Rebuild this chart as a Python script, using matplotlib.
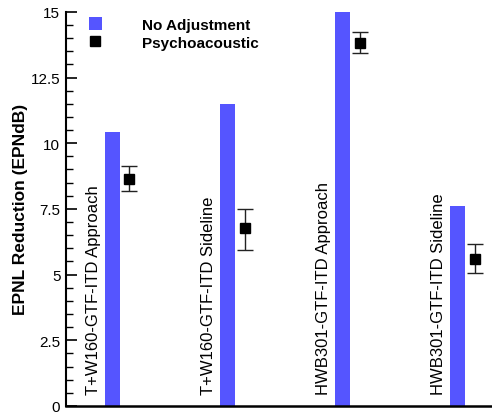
import matplotlib
matplotlib.use("Agg")
import matplotlib.pyplot as plt
from matplotlib.patches import Patch
from matplotlib.lines import Line2D
from matplotlib.ticker import MultipleLocator

categories = ["T+W160-GTF-ITD Approach", "T+W160-GTF-ITD Sideline",
              "HWB301-GTF-ITD Approach", "HWB301-GTF-ITD Sideline"]
no_adjustment = [10.43, 11.5, 14.98, 7.61]
psycho = [8.64, 6.76, 13.8, 5.58]
psycho_hi = [9.13, 7.5, 14.22, 6.18]
psycho_lo = [8.17, 5.95, 13.42, 5.06]

blue = "#5555ff"
plt.rcParams['font.family'] = ['Liberation Sans', 'DejaVu Sans']

fig = plt.figure(figsize=(4.92, 4.14), dpi=100)
ax = fig.add_axes([0.134, 0.017, 0.864, 0.952])

x = list(range(len(categories)))
ax.bar(x, no_adjustment, width=0.13, color=blue, zorder=2)
px = [i + 0.148 for i in x]
yerr = [[p - l for p, l in zip(psycho, psycho_lo)], [h - p for p, h in zip(psycho, psycho_hi)]]
ax.errorbar(px, psycho, yerr=yerr, fmt='s', color='black', ms=6.5,
            ecolor='#222222', elinewidth=1, capsize=5.5, capthick=1, zorder=3)

for i, c in enumerate(categories):
    ax.text(i - 0.1, 0.45, c, rotation=90, ha='right', va='bottom', fontsize=12)

ax.set_xlim(-0.404, 3.29)
ax.set_ylim(0, 15)
ax.yaxis.set_minor_locator(MultipleLocator(0.5))
ax.set_yticks([0, 2.5, 5, 7.5, 10, 12.5, 15])
ax.set_yticklabels(["0", "2.5", "5", "7.5", "10", "12.5", "15"])
ax.tick_params(axis='y', which='major', direction='in', length=8, width=1.2, labelsize=11, pad=4)
ax.tick_params(axis='y', which='minor', direction='in', length=5, width=1)
ax.set_xticks([])
for s in ['top', 'right']:
    ax.spines[s].set_visible(False)
ax.spines['left'].set_linewidth(1.5)
ax.spines['bottom'].set_linewidth(1.8)
ax.set_ylabel("EPNL Reduction (EPNdB)", fontsize=12.5, fontweight='bold', labelpad=2)

handles = [Patch(facecolor=blue, edgecolor='none'),
           Line2D([], [], marker='s', color='black', linestyle='none', ms=6.5)]
leg = ax.legend(handles, ["No Adjustment", "Psychoacoustic"], loc='upper left',
                bbox_to_anchor=(0.036, 1.006), frameon=False, borderpad=0,
                handlelength=0.85, handleheight=0.95, handletextpad=2.6,
                labelspacing=0.2, prop={'weight': 'bold', 'size': 11})

fig.savefig("out.png", dpi=100)
